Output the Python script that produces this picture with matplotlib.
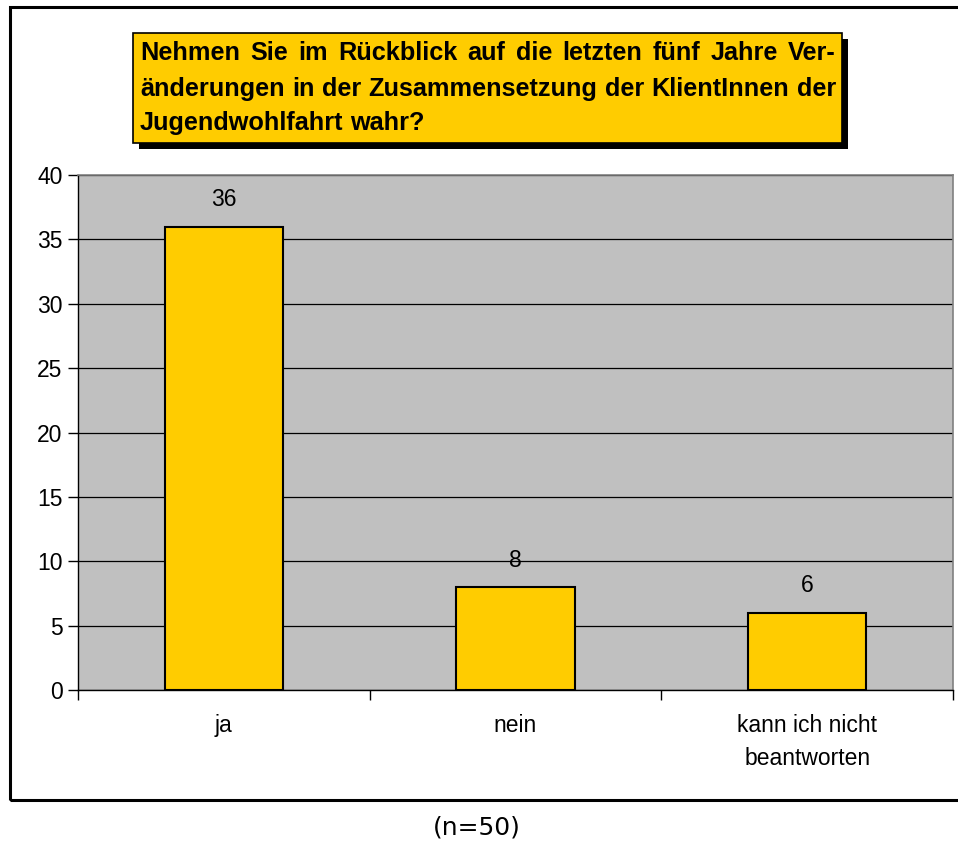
import numpy as np
import matplotlib
matplotlib.use("Agg")
import matplotlib.pyplot as plt
from matplotlib.patches import Rectangle

# daten
kategorien = ["ja", "nein", "kann ich nicht\nbeantworten"]
werte = [36, 8, 6]
y_ticks = [0, 5, 10, 15, 20, 25, 30, 35, 40]
titel_zeilen = ["Nehmen Sie im Rückblick auf die letzten fünf Jahre Ver-",
                "änderungen in der Zusammensetzung der KlientInnen der",
                "Jugendwohlfahrt wahr?"]
fussnote = "(n=50)"

W, H = 958, 843
fig = plt.figure(figsize=(W/100, H/100), dpi=100)
fig.patch.set_facecolor("white")
fs = 16.5
tfs = 18.2

# aeusserer rahmen
fig.patches.append(Rectangle((10/W, 1-800/H), 1.2, (800-7)/H, transform=fig.transFigure,
                             fill=False, edgecolor="black", linewidth=2.2, zorder=0))

ax = fig.add_axes([78/W, 1-690/H, (953-78)/W, (690-175)/H])
ax.set_facecolor("#C0C0C0")
x = np.arange(len(kategorien))
ax.bar(x, werte, width=0.405, color="#FFCC00", edgecolor="black", linewidth=1.5, zorder=3)
ax.set_xlim(-0.5, len(kategorien)-0.5)
ax.set_ylim(0, 40)
ax.set_yticks(y_ticks)
ax.set_yticklabels([str(v) for v in y_ticks], fontsize=fs, family="Liberation Sans")
ax.yaxis.grid(True, color="black", linewidth=0.9, zorder=1)
ax.set_axisbelow(True)
ax.set_xticks(np.arange(len(kategorien)+1)-0.5)
ax.set_xticklabels([])
ax.set_xticks(x, minor=True)
ax.set_xticklabels(kategorien, minor=True, fontsize=fs, family="Liberation Sans", linespacing=1.55)
ax.tick_params(axis="x", which="minor", length=0, pad=17)
ax.tick_params(axis="x", which="major", length=7, width=1, direction="out")
ax.tick_params(axis="y", length=7, width=1, direction="out", pad=4)
for s in ["top", "right"]:
    ax.spines[s].set_color("#808080")
    ax.spines[s].set_linewidth(1.2)
for s in ["left", "bottom"]:
    ax.spines[s].set_color("black")
    ax.spines[s].set_linewidth(1)

for xi, v in zip(x, werte):
    ax.annotate(str(v), (xi, v), xytext=(0, 11), textcoords="offset points",
                ha="center", va="bottom", fontsize=fs, family="Liberation Sans")

# titelkasten mit schatten
bx0, by0, bx1, by1 = 133, 33, 842, 143
fig.patches.append(Rectangle(((bx0+6)/W, 1-(by1+6)/H), (bx1-bx0)/W, (by1-by0)/H,
                             transform=fig.transFigure, facecolor="black", edgecolor="none", zorder=1))
fig.patches.append(Rectangle((bx0/W, 1-by1/H), (bx1-bx0)/W, (by1-by0)/H,
                             transform=fig.transFigure, facecolor="#FFCC00", edgecolor="black",
                             linewidth=1.2, zorder=2))

# blocksatz: woerter einzeln setzen
renderer = fig.canvas.get_renderer()
tx0, tx1 = 140, 836
zeilen_y = [53, 89, 123]
for i, zeile in enumerate(titel_zeilen):
    woerter = zeile.split(" ")
    texte = [fig.text(0, 1-zeilen_y[i]/H, w, ha="left", va="center", fontsize=tfs,
                      fontweight="bold", family="Liberation Sans", zorder=3) for w in woerter]
    breiten = [t.get_window_extent(renderer).width for t in texte]
    if i < len(titel_zeilen)-1:
        luecke = (tx1-tx0-sum(breiten))/(len(woerter)-1)
    else:
        luecke = renderer.points_to_pixels(tfs)*0.28
    pos = tx0
    for t, b in zip(texte, breiten):
        t.set_x(pos/W)
        pos += b+luecke

fig.text(477/W, 1-828/H, fussnote, ha="center", va="center", fontsize=18, family="DejaVu Sans")

fig.savefig("out.png", dpi=100)
